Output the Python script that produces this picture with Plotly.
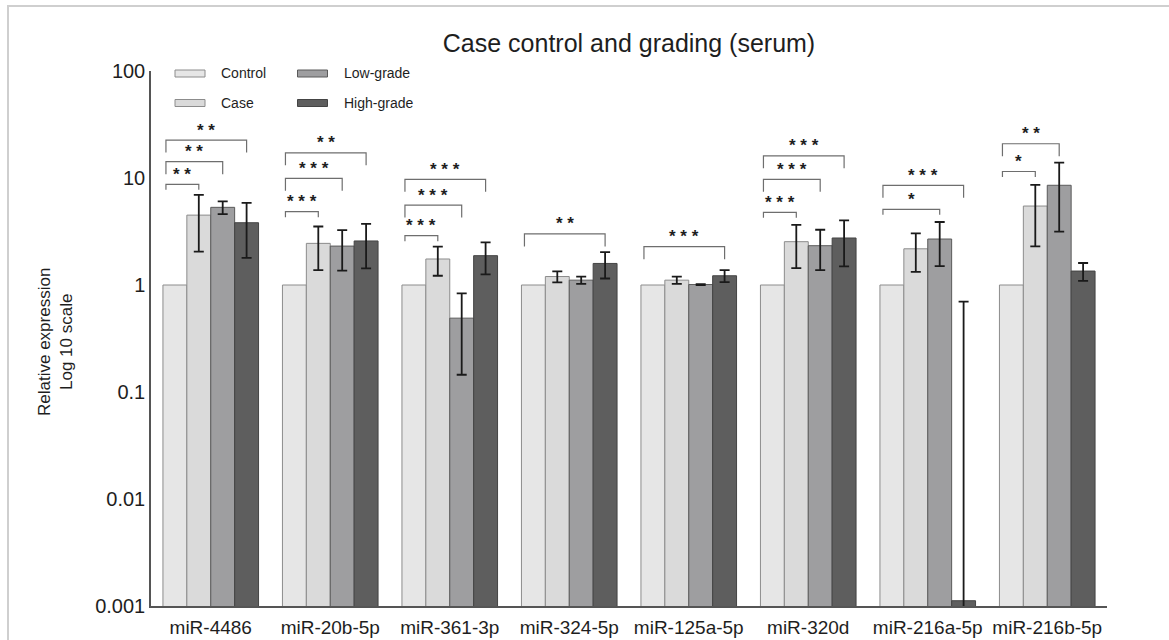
import math
import plotly.graph_objects as go

# ---- data -------------------------------------------------------------
mirnas = ["miR-4486", "miR-20b-5p", "miR-361-3p", "miR-324-5p",
          "miR-125a-5p", "miR-320d", "miR-216a-5p", "miR-216b-5p"]
group_names = ["Control", "Case", "Low-grade", "High-grade"]

control = [1, 1, 1, 1, 1, 1, 1, 1]
case = [4.5, 2.45, 1.75, 1.2, 1.11, 2.54, 2.18, 5.47]
case_err = [2.45, 1.07, 0.53, 0.14, 0.085, 1.1, 0.855, 3.17]
low_grade = [5.32, 2.31, 0.49, 1.11, 1.01, 2.33, 2.69, 8.55]
low_grade_err = [0.72, 0.95, 0.345, 0.085, 0.01, 0.955, 1.19, 5.4]
high_grade = [3.82, 2.58, 1.88, 1.59, 1.22, 2.75, 0.00112, 1.35]
high_grade_err = [2.03, 1.15, 0.625, 0.44, 0.155, 1.26, 0.699, 0.255]

# significance brackets (Control vs. group), one entry per bracket
sig_mirna = [0, 0, 0, 1, 1, 1, 2, 2, 2, 3, 4, 5, 5, 5, 6, 6, 7, 7]
sig_group = ["Case", "Low-grade", "High-grade",
             "Case", "Low-grade", "High-grade",
             "Case", "Low-grade", "High-grade",
             "High-grade", "High-grade",
             "Case", "Low-grade", "High-grade",
             "Low-grade", "High-grade",
             "Case", "Low-grade"]
sig_height = [8.73, 14.2, 22.6,
              4.84, 9.94, 17.2,
              2.89, 5.59, 9.72,
              3.0, 2.28,
              4.78, 9.72, 16.1,
              5.1, 8.55,
              11.5, 20.9]
sig_label = ["**", "**", "**",
             "***", "***", "**",
             "***", "***", "***",
             "**", "***",
             "***", "***", "***",
             "*", "***",
             "*", "**"]

# ---- layout geometry (pixels) -------------------------------------------
W, H = 1169, 640
L, R, T, B = 151, 62, 71, 34
PW, PH = W - L - R, H - T - B
PX_PER_DECADE = PH / 5.0
FONT = "Liberation Sans, Arial, sans-serif"
TXT = "#1e1e1e"


def paper_x(px):
    return (px - L) / PW


def paper_y(py):
    return (H - B - py) / PH


fills = ["#e6e6e6", "#dadada", "#9e9ea0", "#5e5e5e"]
edges = ["#8c8c8c", "#8c8c8c", "#5a5a5a", "#444444"]
values = [control, case, low_grade, high_grade]
errors = [None, case_err, low_grade_err, high_grade_err]
offsets = {"Control": -0.3, "Case": -0.1, "Low-grade": 0.1, "High-grade": 0.3}

xs = list(range(len(mirnas)))
fig = go.Figure()

for name, vals, err, fc, ec in zip(group_names, values, errors, fills, edges):
    kw = {}
    if err is not None:
        kw["error_y"] = dict(type="data", array=err, symmetric=True,
                             color="#1a1a1a", thickness=1.8, width=5)
    fig.add_trace(go.Bar(
        x=xs, y=vals, name=name, showlegend=False,
        marker=dict(color=fc, line=dict(color=ec, width=1)),
        **kw))

# significance brackets and stars
annotations = []
group_count = {}
for m in sig_mirna:
    group_count[m] = group_count.get(m, 0) + 1
seen = {}
for m, g, h, lab in zip(sig_mirna, sig_group, sig_height, sig_label):
    order = seen.get(m, 0)
    seen[m] = order + 1
    depth_px = 5.5 if (group_count[m] > 1 and order == 0) else 12.5
    drop = h / (10 ** (depth_px / PX_PER_DECADE))
    x0 = m - 0.375
    x1 = m + offsets[g]
    fig.add_trace(go.Scatter(
        x=[x0, x0, x1, x1], y=[drop, h, h, drop], mode="lines",
        line=dict(color="#6e6e6e", width=1.2), showlegend=False,
        hoverinfo="skip"))
    annotations.append(dict(
        x=(x0 + x1) / 2, y=math.log10(h), xref="x", yref="y",
        text="<b>" + " ".join(lab) + "</b>", showarrow=False,
        yanchor="middle", yshift=10,
        font=dict(family=FONT, size=17, color=TXT)))

# legend drawn as swatches + labels
shapes = []
legend_rows = [("Control", 175, 73.5), ("Case", 175, 103),
               ("Low-grade", 297.5, 73.5), ("High-grade", 297.5, 103)]
for (label, sx, sy), fc, ec in zip(legend_rows, fills, edges):
    shapes.append(dict(type="rect", xref="paper", yref="paper",
                       x0=paper_x(sx), x1=paper_x(sx + 30),
                       y0=paper_y(sy + 3.5), y1=paper_y(sy - 3.5),
                       fillcolor=fc, line=dict(color=ec, width=1)))
    annotations.append(dict(
        x=paper_x(sx + 44), y=paper_y(sy), xref="paper", yref="paper",
        text=label, showarrow=False, xanchor="left", yanchor="middle",
        font=dict(family=FONT, size=14, color=TXT)))

# y-axis title
annotations.append(dict(
    x=paper_x(55), y=paper_y(342), xref="paper", yref="paper",
    text="Relative expression<br>Log 10 scale", showarrow=False,
    textangle=-90, xanchor="center", yanchor="middle",
    font=dict(family=FONT, size=17, color=TXT)))

# light frame around the figure
shapes.append(dict(type="path", xref="paper", yref="paper",
                   path="M {a},{b} L {a},{c} L {d},{c}".format(
                       a=paper_x(8), b=paper_y(700), c=paper_y(6),
                       d=paper_x(1250)),
                   line=dict(color="#cfcfcf", width=2)))

fig.update_layout(
    width=W, height=H,
    margin=dict(l=L, r=R, t=T, b=B),
    paper_bgcolor="white", plot_bgcolor="white",
    barmode="group", bargap=0.2, bargroupgap=0,
    title=dict(text="Case control and grading (serum)", x=paper_x(629),
               xref="paper", xanchor="center", y=1 - 43 / H,
               yanchor="middle",
               font=dict(family=FONT, size=25, color=TXT)),
    xaxis=dict(range=[-0.5, 7.5], tickvals=xs, ticktext=mirnas,
               showgrid=False, zeroline=False, showline=True,
               linecolor="#555555", linewidth=1.5, ticks="",
               ticklabelstandoff=3, automargin=False,
               tickfont=dict(family=FONT, size=19, color=TXT)),
    yaxis=dict(type="log", range=[-3, 2],
               tickvals=[0.001, 0.01, 0.1, 1, 10, 100],
               ticktext=["0.001", "0.01", "0.1", "1", "10", "100"],
               showgrid=False, zeroline=False, showline=True,
               linecolor="#555555", linewidth=1.5, ticks="",
               automargin=False,
               tickfont=dict(family=FONT, size=20, color=TXT)),
    shapes=shapes,
    annotations=annotations,
    font=dict(family=FONT, color=TXT),
)

fig.write_html("out.html")
